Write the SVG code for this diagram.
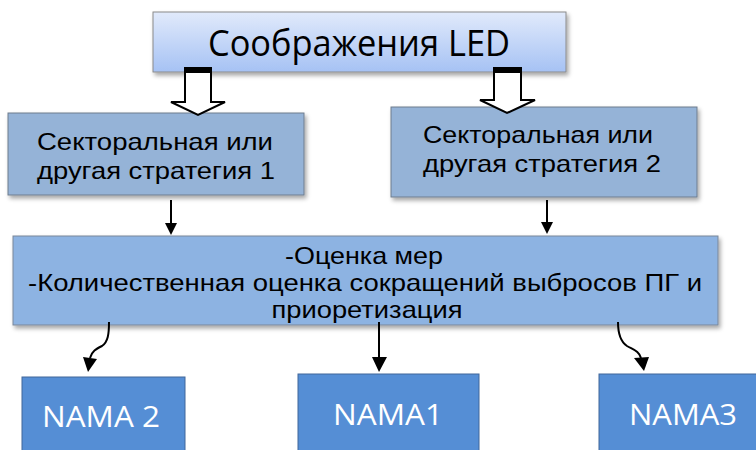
<svg xmlns="http://www.w3.org/2000/svg" width="756" height="450" viewBox="0 0 756 450">
<defs>
<linearGradient id="gTop" x1="0" y1="0" x2="0" y2="1">
<stop offset="0" stop-color="#e1eafb"/>
<stop offset="1" stop-color="#a6c2f4"/>
</linearGradient>
<filter id="sh" x="-5%" y="-10%" width="115%" height="130%">
<feDropShadow dx="2" dy="3" stdDeviation="2" flood-color="#000" flood-opacity="0.35"/>
</filter>
</defs>
<style>
.ru{font-family:"Liberation Sans",Arial,sans-serif;fill:#000;text-anchor:middle}
.cal{font-family:"Open Sans","Noto Sans",sans-serif;text-anchor:middle}
.strat{fill:#95b3d7;stroke:#6e7c8e;stroke-width:1}
.nama{fill:#558ed5;stroke:#41679a;stroke-width:1}
.ln{stroke:#000;stroke-width:2;fill:none}
.hd{fill:#000}
.blk{fill:#fff;stroke:#000;stroke-width:2}
</style>

<g id="led">
<rect x="153" y="12" width="413" height="60" fill="url(#gTop)" stroke="#8a8a8a" stroke-width="1" filter="url(#sh)"/>
<text class="cal" x="359" y="56" font-size="36" fill="#000" textLength="302" lengthAdjust="spacingAndGlyphs">Соображения LED</text>
</g>

<g id="strategy1">
<rect class="strat" x="8" y="113" width="296" height="82" filter="url(#sh)"/>
<text class="ru" x="155" y="150" font-size="24" textLength="236" lengthAdjust="spacingAndGlyphs">Секторальная или</text>
<text class="ru" x="156" y="179" font-size="24" textLength="238" lengthAdjust="spacingAndGlyphs">другая стратегия 1</text>
</g>

<g id="strategy2">
<rect class="strat" x="391" y="107" width="306" height="90" filter="url(#sh)"/>
<text class="ru" x="538" y="143" font-size="24" textLength="230" lengthAdjust="spacingAndGlyphs">Секторальная или</text>
<text class="ru" x="542" y="172" font-size="24" textLength="238" lengthAdjust="spacingAndGlyphs">другая стратегия 2</text>
</g>

<g id="assessment">
<rect x="13" y="236" width="705" height="89" fill="#8db3e2" stroke="#7a8799" stroke-width="1" filter="url(#sh)"/>
<text class="ru" x="364" y="264" font-size="24" textLength="158" lengthAdjust="spacingAndGlyphs">-Оценка мер</text>
<text class="ru" x="365" y="291" font-size="24" textLength="674" lengthAdjust="spacingAndGlyphs">-Количественная оценка сокращений выбросов ПГ и</text>
<text class="ru" x="367" y="318" font-size="24" textLength="191" lengthAdjust="spacingAndGlyphs">приоретизация</text>
</g>

<g id="nama2">
<rect class="nama" x="22" y="377" width="163" height="80"/>
<text class="cal" x="101" y="427" font-size="30" fill="#fff" textLength="118" lengthAdjust="spacingAndGlyphs">NAMA 2</text>
</g>

<g id="nama1">
<rect class="nama" x="298" y="374" width="181" height="83"/>
<text class="cal" x="388" y="425" font-size="30" fill="#fff" textLength="110" lengthAdjust="spacingAndGlyphs">NAMA1</text>
</g>

<g id="nama3">
<rect class="nama" x="599" y="374" width="165" height="83"/>
<text class="cal" x="683" y="425" font-size="30" fill="#fff" textLength="108" lengthAdjust="spacingAndGlyphs">NAMA3</text>
</g>

<g id="connectors">
<rect x="184" y="67" width="28" height="5" fill="#000"/>
<polygon class="blk" points="185,72 185,102 171,102 198,115 225,102 211,102 211,72"/>
<rect x="493" y="67" width="29" height="5" fill="#000"/>
<polygon class="blk" points="494,72 494,100 480,100 507,113 535,100 521,100 521,72"/>

<line class="ln" x1="171" y1="200" x2="171" y2="224"/>
<polygon class="hd" points="165,223 177,223 171,235"/>
<line class="ln" x1="547" y1="200" x2="547" y2="223"/>
<polygon class="hd" points="541,222 553,222 547,234"/>

<path class="ln" d="M109,322 C109,334 108,342 102,346 C96,349 92,351 90,358"/>
<polygon class="hd" points="83,357 97,359 88,372"/>
<line class="ln" x1="379" y1="322" x2="379" y2="358"/>
<polygon class="hd" points="372,357 387,357 379,372"/>
<path class="ln" d="M618,322 C618,334 621,342 627,346 C634,350 639,351 641,358"/>
<polygon class="hd" points="634,358 649,357 644,371"/>
</g>
</svg>
